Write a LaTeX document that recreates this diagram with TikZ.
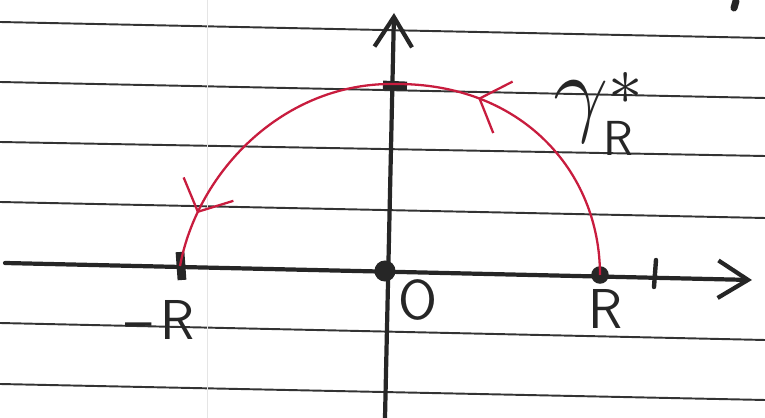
\RequirePackage{fix-cm}
\documentclass[tikz,border=0pt]{standalone}
\usepackage{fontspec}
\usepackage{tikz}
\usetikzlibrary{arrows.meta,decorations.markings}
\definecolor{penred}{RGB}{200,28,62}
\definecolor{pen}{RGB}{38,38,38}

\begin{document}
\begin{tikzpicture}[
	x=0.02cm, y=-0.02cm,
	>={Straight Barb[length=6mm,width=7.5mm]},
	rule/.style={draw=black!80, line width=1.1pt},
	axis/.style={draw=pen, line width=2.4pt, line cap=round},
	dot/.style={circle, fill=pen, inner sep=0pt, minimum size=#1},
	dot/.default=10pt,
	lbl/.style={text=pen, font=\sffamily\fontsize{32}{34}\selectfont},
	contour/.style={draw=penred, line width=1.3pt, postaction={decorate}, decoration={markings,
		mark=at position 0.37 with {\arrow{Straight Barb[length=5mm,width=11mm,line width=1.3pt]}},
		mark=at position 0.91 with {\arrow{Straight Barb[length=5mm,width=11mm,line width=1.3pt]}}}}
]
\useasboundingbox (0,0) rectangle (765,418);

\foreach \yl/\yr in {22/38, 82/98, 142/156, 202/218, 323/340, 384/400}
	\draw[rule] (0,\yl) -- (765,\yr);
\draw[black!10, line width=0.5pt] (207,0) -- (207,418);

\coordinate (xstart) at (5,263);
\coordinate (xend) at (752,280);
\coordinate (ybot) at (385,418);
\coordinate (ytop) at (394,13);
\draw[axis,->] (xstart) -- (xend);
\draw[axis,->] (ybot) -- (ytop);

\node[dot=12pt] (o) at (385,271) {};
\node[dot] (r) at (600,275) {};
\coordinate (mr) at (180,266);
\coordinate (top) at (395,84);

\draw[pen, line width=5pt] (180,252) -- (182,280);
\draw[pen, line width=2.5pt, line cap=round] (656,260) -- (654,287);
\draw[pen, line width=5pt] (383,85) -- (407,86);
\draw[pen, line width=4pt, line cap=round] (736,1) -- (734,8);

\draw[contour] (r.center) .. controls (600,170) and (520,83) .. (top)
	.. controls (285,82) and (198,170) .. (mr);

\node[lbl] (lmr) at (160,320) {--\,R};
\node[lbl] (lo) at (418,300) {O};
\node[lbl] (lr) at (606,309) {R};
\node[text=pen, font=\fontsize{56}{58}\selectfont, anchor=base west, inner sep=0pt] (lg) at (553,124)
	{$\gamma^{\lower 9pt\hbox{$\scriptstyle *$}}_{\lower 4pt\hbox{\sffamily\fontsize{28}{30}\selectfont R}}$};
\end{tikzpicture}
\end{document}
